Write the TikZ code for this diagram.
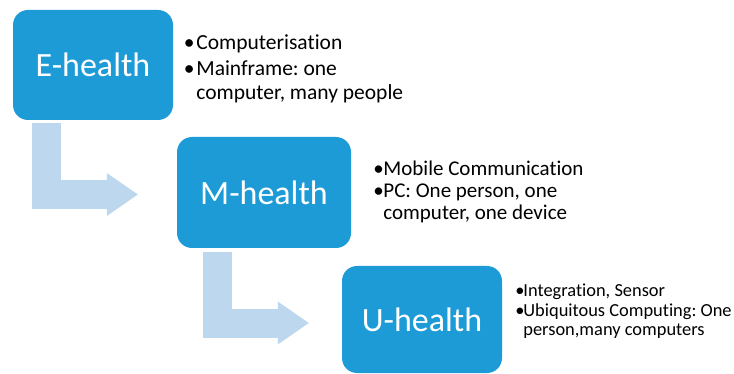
\documentclass[tikz,border=0pt]{standalone}
\usepackage{fontspec}
\setmainfont{Carlito}[Ligatures=NoCommon]
\usetikzlibrary{arrows.meta,calc,positioning}
\definecolor{boxblue}{RGB}{29,155,215}
\definecolor{arrowblue}{RGB}{189,215,238}
\newcommand{\bitem}[2][12pt]{\makebox[#1][l]{\textbullet}#2}
\frenchspacing
\begin{document}
\begin{tikzpicture}[x=1pt,y=-1pt,
    stage/.style={rectangle,rounded corners=15pt,fill=boxblue,text=white,
      inner sep=0pt,font=\fontsize{34}{38}\selectfont},
    notes/.style={align=left,inner sep=0pt,anchor=base west},
    bentarrow/.style={draw=arrowblue,line width=29pt,
      -{Triangle[length=31pt,width=43pt,line width=0pt]}}]
  \useasboundingbox (0,0) rectangle (734,374);
  % the three stages
  \node (E) [stage,minimum width=160pt,minimum height=110pt] at (93,65) {E-health};
  \node (M) [stage,minimum width=174pt,minimum height=111pt] at (264,192.5) {M-health};
  \node (U) [stage,minimum width=160pt,minimum height=107pt] at (422,319.5) {U-health};
  % bent arrows
  \draw[bentarrow] ($(E.south west)+(33.5,3)$) |- ($(M.west)+(-39,2)$);
  \draw[bentarrow] ($(M.south west)+(40.5,4)$) |- ($(U.west)+(-33,3.5)$);
  % notes (anchored on the baseline of the last line)
  \node (Enotes) [notes,font=\fontsize{21.5}{23.3}\selectfont]
    at ($(E.east)+(10.5,34.3)$)
    {\bitem[12.5pt]{Computerisation}\\[3.5pt]
     \bitem[12.5pt]{Mainframe: one}\\
     \hspace*{12.5pt}computer, many people};
  \node (Mnotes) [notes,font=\fontsize{21}{22}\selectfont]
    at ($(M.east)+(22,26.8)$)
    {\bitem[10pt]{Mobile Communication}\\
     \bitem[10pt]{PC: One person, one}\\
     \hspace*{10pt}computer, one device};
  \node (Unotes) [notes,font=\fontsize{18.4}{18.5}\selectfont]
    at ($(U.east)+(13,15.5)$)
    {\bitem[8pt]{Integration, Sensor}\\[1.5pt]
     \bitem[8pt]{Ubiquitous Computing: One}\\
     \hspace*{8pt}person,many computers};
\end{tikzpicture}
\end{document}
